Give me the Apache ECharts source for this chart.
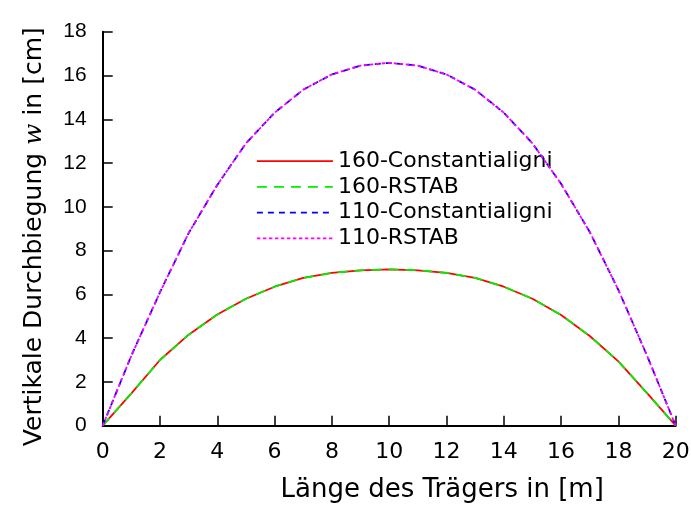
<!DOCTYPE html>
<html>
<head>
<meta charset="utf-8">
<script src="https://cdn.jsdelivr.net/npm/echarts@6/dist/echarts.min.js"></script>
<style>html,body{margin:0;padding:0;background:#fff;}#c{width:691px;height:506px;}</style>
</head>
<body>
<div id="c"></div>
<script>
// positions along the beam [m]
const xPos = [0,1,2,3,4,5,6,7,8,9,10,11,12,13,14,15,16,17,18,19,20];
// deflection w [cm]
const w160Const = [0,1.48,3.0,4.16,5.08,5.8,6.35,6.75,6.98,7.1,7.14,7.1,6.98,6.75,6.35,5.8,5.06,4.1,2.94,1.49,0];
const w160Rstab = [0,1.48,3.0,4.16,5.08,5.8,6.35,6.75,6.98,7.1,7.14,7.1,6.98,6.75,6.35,5.8,5.06,4.1,2.94,1.49,0];
const w110Const = [0,3.2,6.1,8.8,11.0,12.9,14.3,15.35,16.05,16.45,16.58,16.45,16.05,15.35,14.3,12.9,11.05,8.85,6.2,3.2,0];
const w110Rstab = [0,3.2,6.1,8.8,11.0,12.9,14.3,15.35,16.05,16.45,16.58,16.45,16.05,15.35,14.3,12.9,11.05,8.85,6.2,3.2,0];
const seriesNames = ['160-Constantialigni','160-RSTAB','110-Constantialigni','110-RSTAB'];
const xTicks = [0,2,4,6,8,10,12,14,16,18,20];
const yTicks = [0,2,4,6,8,10,12,14,16,18];

const pair = arr => xPos.map((x,i)=>[x,arr[i]]);
const styles = [
  {color:'#ff0000', type:'solid'},
  {color:'#00f000', type:[10,7]},
  {color:'#0000ff', type:[6,5]},
  {color:'#ff00ff', type:[3.5,2.5]}
];
const dataSets = [w160Const,w160Rstab,w110Const,w110Rstab];

const chart = echarts.init(document.getElementById('c'), null, {renderer:'canvas'});
chart.setOption({
  animation:false,
  backgroundColor:'#ffffff',
  grid:{left:102.7, right:15.3, top:31.7, bottom:80.3, containLabel:false, outerBoundsMode:'none'},
  legend:{
    orient:'vertical', left:256, top:150.2, padding:0,
    itemWidth:76, itemHeight:14, itemGap:3.7, itemTextGap:5,
    itemStyle:{opacity:0, borderWidth:0},
    lineStyle:{width:1.8},
    textStyle:{fontFamily:'DejaVu Sans', fontSize:22, color:'#000', lineHeight:22},
    data:seriesNames
  },
  xAxis:{
    type:'value', min:xTicks[0], max:xTicks[xTicks.length-1], interval:2,
    name:'Länge des Trägers in [m]', nameLocation:'middle', nameGap:52,
    nameTextStyle:{fontFamily:'DejaVu Sans', fontSize:26, color:'#000', padding:[0,0,0,106]},
    axisLine:{show:true, onZero:false, lineStyle:{color:'#000', width:2}},
    axisTick:{show:true, inside:true, length:10, lineStyle:{color:'#000', width:1.5}},
    axisLabel:{fontFamily:'DejaVu Sans', fontSize:22, color:'#000', margin:16},
    splitLine:{show:false}
  },
  yAxis:{
    type:'value', min:yTicks[0], max:yTicks[yTicks.length-1], interval:2,
    name:'{a|Vertikale Durchbiegung }{i|w}{a| in [cm]}', nameLocation:'middle', nameGap:56,
    nameTextStyle:{padding:[0,16,0,0], rich:{
      a:{fontFamily:'DejaVu Sans', fontSize:25, color:'#000'},
      i:{fontFamily:'DejaVu Serif', fontStyle:'italic', fontSize:25, color:'#000'}
    }},
    axisLine:{show:true, onZero:false, lineStyle:{color:'#000', width:2}},
    axisTick:{show:true, inside:true, length:10, lineStyle:{color:'#000', width:1.5}},
    axisLabel:{fontFamily:'Liberation Sans', fontSize:21, color:'#000', margin:16},
    splitLine:{show:false}
  },
  series: seriesNames.map((n,i)=>({
    name:n, type:'line', data:pair(dataSets[i]), symbol:'none', smooth:false,
    color:styles[i].color,
    lineStyle:{color:styles[i].color, width:1.8, type:styles[i].type},
    z: 2+i
  }))
});
</script>
</body>
</html>
